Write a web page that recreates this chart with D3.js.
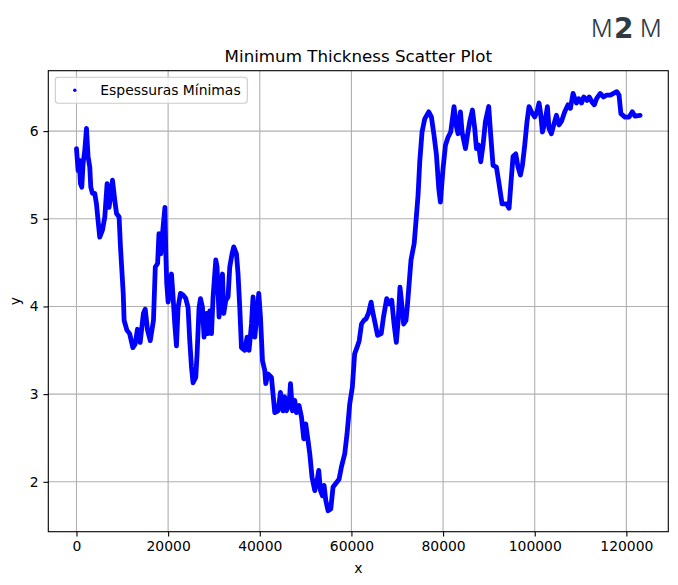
<!DOCTYPE html>
<html>
<head>
<meta charset="utf-8">
<script src="https://cdn.jsdelivr.net/npm/d3@7"></script>
<style>
  body { margin: 0; background: #fff; }
  svg { font-family: "DejaVu Sans", sans-serif; }
</style>
</head>
<body>
<div id="chart"></div>
<script>
// posições ao longo do tubo (x)
const posicoes = [
  0, 350, 570, 870, 1160, 1440, 1810, 2180, 2530, 2900,
  3120, 3490, 3990, 4360, 4710, 5080, 5670, 6180, 6680, 7110,
  7420, 7860, 8360, 8730, 9300, 9600,
  10200, 10400, 11000, 11600, 12300, 12800, 13300, 13900, 14600, 15000,
  15500, 16100, 16800, 17200, 17700, 18000, 18400, 18800, 19300,
  19500, 19700, 20000, 20730, 21080, 21450, 21820, 22170, 22690, 23260,
  23850, 24350, 24720, 25090, 25440, 26030, 26320, 26750, 27060, 27490,
  27840, 28370, 28720, 29090, 29460, 29810, 30400, 30680, 31120, 31490,
  31860, 32140, 32580, 33080, 33450, 33950, 34320, 34910, 35260, 35630,
  36000, 36720, 37230, 37660, 38190, 38530, 38910, 39410, 39780, 40150,
  40590, 41090,
  41300, 41810, 42550, 43270, 43990, 44510, 45080, 45450, 45820, 46390,
  46700, 47130, 47630, 48000, 48570, 49100, 49600, 50030, 50530, 50910,
  51410, 52000, 52500, 52870, 53240, 53680, 54030, 54400, 54900, 55490,
  55990, 56580, 57300, 57820, 58540, 59050, 59630,
  60200, 60700, 61200, 61700, 62200, 62700, 63200, 63700, 64300, 64600,
  65200, 65700, 66500, 67000, 67700, 68300, 68800, 69300, 69800, 70200,
  70600, 70900, 71400, 71900, 72200, 73000, 73700, 74100,
  74540, 74910, 75410, 76000, 76870, 77460, 78030, 78550, 79050, 79420,
  79990, 80520, 81080, 81670, 82390, 82920, 83270, 83790, 84140, 84880,
  85320, 85820, 86410, 86910, 87280, 87780, 88220, 88720, 89240, 89960,
  90400, 90900, 91640, 92150, 92870,
  93830, 94400, 94770, 95270, 95860, 96360, 96880, 97320, 97820, 98320,
  98760, 99280, 100000, 100500, 100940, 101250, 101680, 102180, 102770, 103120,
  103640, 104150, 104740, 105300, 105830, 106550, 107270, 107790, 108360, 109100,
  109600, 110200, 110700, 111400, 111900, 112500, 113000, 113500, 114300, 115000,
  115700, 116500, 117200, 117900, 118400, 118800, 119700, 120600, 121300, 121900,
  123000
];
// espessuras mínimas (y), na mesma ordem
const espessuras = [
  5.80, 5.55, 5.67, 5.40, 5.36, 5.63, 5.78, 6.03, 5.71, 5.59,
  5.36, 5.29, 5.29, 5.17, 4.98, 4.79, 4.87, 5.02, 5.40, 5.13,
  5.25, 5.44, 5.21, 5.06, 5.02, 4.68,
  4.15, 3.84, 3.73, 3.69, 3.53, 3.57, 3.74, 3.59, 3.92, 3.97,
  3.73, 3.61, 3.84, 4.45, 4.49, 4.83, 4.60, 4.85, 5.13,
  4.60, 4.26, 4.05, 4.37, 4.11, 3.80, 3.55, 3.99, 4.15, 4.13,
  4.09, 3.99, 3.61, 3.31, 3.13, 3.19, 3.46, 3.99, 4.09, 3.99,
  3.65, 3.92, 3.69, 3.95, 3.69, 4.11, 4.53, 4.45, 3.88, 4.22,
  4.37, 3.92, 4.07, 4.11, 4.45, 4.60, 4.68, 4.60, 4.37, 3.99,
  3.53, 3.50, 3.65, 3.50, 3.80, 4.11, 3.65, 3.92, 4.15, 3.88,
  3.38, 3.27,
  3.12, 3.23, 3.19, 2.79, 2.81, 3.02, 2.81, 2.97, 2.81, 2.87,
  3.12, 2.81, 2.93, 2.79, 2.87, 2.74, 2.49, 2.66, 2.47, 2.32,
  2.05, 1.90, 2.01, 2.13, 1.90, 1.84, 1.96, 1.79, 1.67, 1.69,
  1.94, 1.98, 2.03, 2.17, 2.32, 2.55, 2.89,
  3.08, 3.46, 3.53, 3.61, 3.80, 3.84, 3.86, 3.92, 4.05, 3.95,
  3.80, 3.67, 3.69, 3.88, 4.09, 4.03, 4.07, 3.80, 3.59, 3.84,
  4.22, 4.07, 3.80, 3.84, 4.00, 4.53, 4.72, 4.98,
  5.27, 5.65, 5.99, 6.14, 6.22, 6.16, 5.95, 5.73, 5.35, 5.19,
  5.57, 5.84, 5.93, 5.99, 6.28, 6.05, 5.97, 6.22, 5.99, 5.80,
  5.95, 6.11, 6.24, 6.03, 5.80, 5.84, 5.65, 5.84, 6.11, 6.28,
  5.95, 5.61, 5.59, 5.42, 5.17,
  5.17, 5.12, 5.38, 5.71, 5.74, 5.59, 5.50, 5.61, 5.84, 6.11,
  6.28, 6.22, 6.16, 6.22, 6.32, 6.22, 5.99, 6.09, 6.28, 6.03,
  5.97, 6.07, 6.18, 6.07, 6.11, 6.22, 6.30, 6.26, 6.43, 6.32,
  6.37, 6.32, 6.39, 6.35, 6.39, 6.33, 6.30, 6.37, 6.43, 6.39,
  6.41, 6.41, 6.43, 6.45, 6.41, 6.20, 6.16, 6.16, 6.22, 6.17,
  6.18
];
const xTicks = [0, 20000, 40000, 60000, 80000, 100000, 120000];
const yTicks = [2, 3, 4, 5, 6];

if (posicoes.length !== espessuras.length) console.error("tamanhos diferentes", posicoes.length, espessuras.length);
const dados = posicoes.map((p, i) => ({ x: p, y: espessuras[i] }));

const W = 678, H = 585;
const margin = { top: 70.7, right: 9.7, bottom: 53.3, left: 48.3 };
const width = W - margin.left - margin.right;
const height = H - margin.top - margin.bottom;

const svg = d3.select("#chart").append("svg")
  .attr("width", W)
  .attr("height", H);

// margem de 5% como no matplotlib
const xMin = d3.min(posicoes), xMax = d3.max(posicoes);
const yMin = d3.min(espessuras), yMax = d3.max(espessuras);
const dx = (xMax - xMin) * 0.05, dy = (yMax - yMin) * 0.05;

const x = d3.scaleLinear().domain([xMin - dx, xMax + dx]).range([0, width]);
const y = d3.scaleLinear().domain([yMin - dy, yMax + dy]).range([height, 0]);

const g = svg.append("g").attr("transform", `translate(${margin.left},${margin.top})`);

// grade
g.append("g").selectAll("line").data(xTicks).join("line")
  .attr("x1", d => x(d)).attr("x2", d => x(d))
  .attr("y1", 0).attr("y2", height)
  .attr("stroke", "#b0b0b0").attr("stroke-width", 1.1);
g.append("g").selectAll("line").data(yTicks).join("line")
  .attr("y1", d => y(d)).attr("y2", d => y(d))
  .attr("x1", 0).attr("x2", width)
  .attr("stroke", "#b0b0b0").attr("stroke-width", 1.1);

// pontos (tão densos que formam uma linha)
const line = d3.line().x(d => x(d.x)).y(d => y(d.y));
g.append("path")
  .datum(dados)
  .attr("fill", "none")
  .attr("stroke", "#0000ff")
  .attr("stroke-width", 4.8)
  .attr("stroke-linejoin", "round")
  .attr("stroke-linecap", "round")
  .attr("d", line);

// eixos
const xAxis = g.append("g")
  .attr("transform", `translate(0,${height})`)
  .call(d3.axisBottom(x).tickValues(xTicks).tickFormat(d3.format("d")).tickSize(4.9).tickPadding(4.9));
const yAxis = g.append("g")
  .call(d3.axisLeft(y).tickValues(yTicks).tickFormat(d3.format("d")).tickSize(4.9).tickPadding(4.9));
[xAxis, yAxis].forEach(a => {
  a.select(".domain").remove();
  a.selectAll("text").style("font-size", "13.9px").attr("fill", "#000")
    .style("font-family", "DejaVu Sans");
  a.selectAll("line").attr("stroke", "#000").attr("stroke-width", 1.1);
});

// moldura
g.append("rect")
  .attr("width", width).attr("height", height)
  .attr("fill", "none").attr("stroke", "#000").attr("stroke-width", 1.1);

// legenda
const leg = g.append("g").attr("transform", "translate(7,6.5)");
leg.append("rect")
  .attr("width", 192).attr("height", 26).attr("rx", 3)
  .attr("fill", "#fff").attr("fill-opacity", 0.8)
  .attr("stroke", "#cccccc").attr("stroke-width", 1.1);
leg.append("circle").attr("cx", 19.5).attr("cy", 13).attr("r", 1.7).attr("fill", "#0000ff");
leg.append("text").attr("x", 45).attr("y", 18)
  .style("font-size", "13.9px").text("Espessuras Mínimas");

// títulos
svg.append("text")
  .attr("x", margin.left + width / 2).attr("y", 62)
  .attr("text-anchor", "middle").style("font-size", "16.7px")
  .text("Minimum Thickness Scatter Plot");
svg.append("text")
  .attr("x", margin.left + width / 2).attr("y", 573)
  .attr("text-anchor", "middle").style("font-size", "13.9px").text("x");
svg.append("text")
  .attr("transform", `translate(20,${margin.top + height / 2}) rotate(-90)`)
  .attr("text-anchor", "middle").style("font-size", "13.9px").text("y");

// logotipo
const logo = svg.append("g").attr("fill", "#2f3b44");
logo.append("text").attr("x", 591).attr("y", 37).style("font-size", "24px").style("font-weight", "300")
  .style("font-family", "Inter").text("M");
logo.append("text").attr("x", 614).attr("y", 38).style("font-size", "28px").style("font-weight", "bold")
  .style("font-family", "DejaVu Sans").text("2");
logo.append("text").attr("x", 640).attr("y", 37).style("font-size", "24px").style("font-weight", "300")
  .style("font-family", "Inter").text("M");
</script>
</body>
</html>
